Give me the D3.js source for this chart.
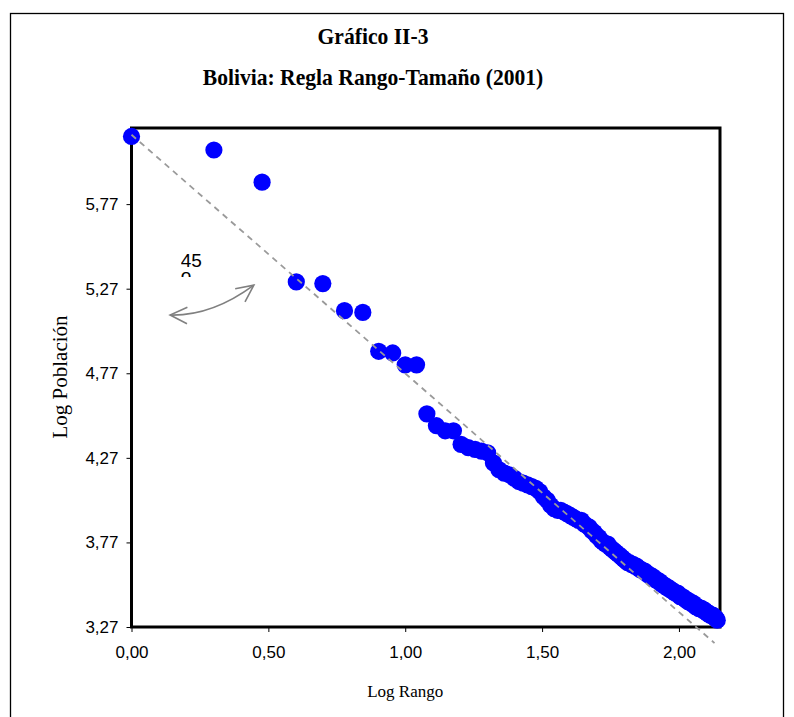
<!DOCTYPE html>
<html><head><meta charset="utf-8">
<script src="https://cdn.jsdelivr.net/npm/d3@7"></script>
<style>body{margin:0;background:#fff} svg{display:block}</style>
</head><body><svg id="c" width="794" height="717"></svg>
<script>
// ---- data ----
const titleLines = ["Gráfico II-3", "Bolivia: Regla Rango-Tamaño (2001)"];
const xLabel = "Log Rango";
const yLabel = "Log Población";
const xTicks = [0, 0.5, 1, 1.5, 2];
const yTicks = [3.27, 3.77, 4.27, 4.77, 5.27, 5.77];
// Log Población by rank (rank 1 .. 138)
const logPoblacion = [
  6.17, 6.09, 5.90, 5.31, 5.30, 5.14, 5.13, 4.90, 4.89, 4.82,
  4.82, 4.53, 4.46, 4.43, 4.43, 4.35, 4.33, 4.32, 4.31, 4.30,
  4.24, 4.20, 4.18, 4.17, 4.15, 4.13, 4.12, 4.11, 4.10, 4.09,
  4.07, 4.04, 4.02, 3.99, 3.97, 3.96, 3.96, 3.95, 3.94, 3.93,
  3.92, 3.91, 3.90, 3.90, 3.88, 3.87, 3.86, 3.84, 3.83, 3.81,
  3.80, 3.78, 3.77, 3.76, 3.76, 3.74, 3.73, 3.72, 3.71, 3.70,
  3.69, 3.68, 3.67, 3.66, 3.65, 3.65, 3.64, 3.64, 3.63, 3.63,
  3.62, 3.61, 3.61, 3.60, 3.60, 3.59, 3.58, 3.58, 3.57, 3.57,
  3.56, 3.55, 3.55, 3.54, 3.54, 3.53, 3.52, 3.52, 3.51, 3.51,
  3.50, 3.50, 3.49, 3.49, 3.48, 3.48, 3.47, 3.47, 3.47, 3.46,
  3.45, 3.45, 3.45, 3.44, 3.44, 3.43, 3.43, 3.42, 3.42, 3.42,
  3.41, 3.41, 3.41, 3.40, 3.39, 3.39, 3.39, 3.38, 3.38, 3.38,
  3.38, 3.37, 3.37, 3.37, 3.36, 3.36, 3.35, 3.35, 3.35, 3.34,
  3.34, 3.34, 3.34, 3.33, 3.33, 3.32, 3.32, 3.31
];
const logRango = logPoblacion.map((_, i) => Math.log10(i + 1));
// reference (slope) line endpoints [Log Rango, Log Población]
const trendLine = [[0, 6.18], [2.13, 3.175]];
// angle annotation (data coords): text box top-left, wrapped "45 o"
const angleText = "45 o";
const angleBoxPos = [0.18, 5.50];
const arrowCurve = [[0.141, 5.114], [0.294, 5.108], [0.447, 5.291]];

// ---- layout ----
const svg = d3.select("#c");
const plot = {left: 131.5, right: 720, top: 128, bottom: 627};
const x = d3.scaleLinear().domain([0, 2.15]).range([plot.left, plot.right]);
const y = d3.scaleLinear().domain([3.27, 6.22]).range([plot.bottom, plot.top]);
const loc = d3.formatLocale({decimal: ",", thousands: ".", grouping: [3], currency: ["", ""]});
const f2 = loc.format(".2f");

// outer frame
svg.append("rect").attr("x", 10.5).attr("y", 13.5).attr("width", 773).attr("height", 720)
  .attr("fill", "none").attr("stroke", "#000").attr("stroke-width", 1.3);

// titles
const titleCx = 373;
const tt = svg.append("text").attr("text-anchor", "middle")
  .attr("transform", `translate(${titleCx},0) scale(0.9,1)`)
  .attr("font-family", "'Liberation Serif','Times New Roman',serif")
  .attr("font-weight", "bold").attr("font-size", 24).attr("fill", "#000");
tt.append("tspan").attr("x", 0).attr("y", 44).text(titleLines[0]);
tt.append("tspan").attr("x", 0).attr("y", 85).text(titleLines[1]);

// axes
const xAxis = d3.axisBottom(x).tickValues(xTicks).tickFormat(f2).tickSize(5).tickPadding(14);
const yAxis = d3.axisLeft(y).tickValues(yTicks).tickFormat(f2).tickSize(5).tickPadding(8);
const gx = svg.append("g").attr("transform", `translate(0,${plot.bottom})`).call(xAxis);
const gy = svg.append("g").attr("transform", `translate(${plot.left},0)`).call(yAxis);
[gx, gy].forEach(g => {
  g.select(".domain").remove();
  g.selectAll(".tick line").attr("stroke", "#000").attr("stroke-width", 1);
  g.selectAll(".tick text").attr("font-family", "'Liberation Sans',Arial,sans-serif")
    .attr("font-size", 17).attr("fill", "#000");
});

// plot border
svg.append("rect").attr("x", plot.left).attr("y", plot.top)
  .attr("width", plot.right - plot.left).attr("height", plot.bottom - plot.top)
  .attr("fill", "none").attr("stroke", "#000").attr("stroke-width", 3);

// axis titles
svg.append("text").attr("x", x(1.0)).attr("y", 697).attr("text-anchor", "middle")
  .attr("font-family", "'Liberation Serif','Times New Roman',serif").attr("font-size", 17)
  .text(xLabel);
svg.append("text").attr("transform", `translate(67,377) rotate(-90)`).attr("text-anchor", "middle")
  .attr("font-family", "'Liberation Serif','Times New Roman',serif").attr("font-size", 21)
  .text(yLabel);

// points
svg.append("g").selectAll("circle").data(logPoblacion).join("circle")
  .attr("cx", (d, i) => x(logRango[i])).attr("cy", d => y(d)).attr("r", 8.6)
  .attr("fill", "#0000ff");

// dashed reference line
svg.append("line")
  .attr("x1", x(trendLine[0][0])).attr("y1", y(trendLine[0][1]))
  .attr("x2", x(trendLine[1][0])).attr("y2", y(trendLine[1][1]))
  .attr("stroke", "#9a9a9a").attr("stroke-width", 1.8).attr("stroke-dasharray", "6,5");

// angle annotation: narrow text box, so the degree mark wraps and is clipped
const fo = svg.append("foreignObject")
  .attr("x", x(angleBoxPos[0])).attr("y", y(angleBoxPos[1]))
  .attr("width", 26).attr("height", 27);
fo.append("xhtml:div")
  .style("width", "26px").style("height", "27px").style("overflow", "hidden")
  .style("font-family", "'Liberation Sans',Arial,sans-serif").style("font-size", "19px")
  .style("line-height", "15px").style("padding-top", "3px").style("color", "#000")
  .style("box-sizing", "border-box")
  .text(angleText);

const p = arrowCurve.map(d => [x(d[0]), y(d[1])]);
const arrowG = svg.append("g").attr("stroke", "#808080").attr("stroke-width", 1.6).attr("fill", "none");
arrowG.append("path").attr("d", `M${p[0][0]},${p[0][1]} Q${p[1][0]},${p[1][1]} ${p[2][0]},${p[2][1]}`);
function head(tip, ctrl) {
  const ang = Math.atan2(tip[1] - ctrl[1], tip[0] - ctrl[0]);
  const L = 19, a = 0.45;
  const a1 = [tip[0] - L * Math.cos(ang - a), tip[1] - L * Math.sin(ang - a)];
  const a2 = [tip[0] - L * Math.cos(ang + a), tip[1] - L * Math.sin(ang + a)];
  arrowG.append("path").attr("d", `M${a1[0]},${a1[1]} L${tip[0]},${tip[1]} L${a2[0]},${a2[1]}`);
}
head(p[0], p[1]);
head(p[2], p[1]);
</script></body></html>
